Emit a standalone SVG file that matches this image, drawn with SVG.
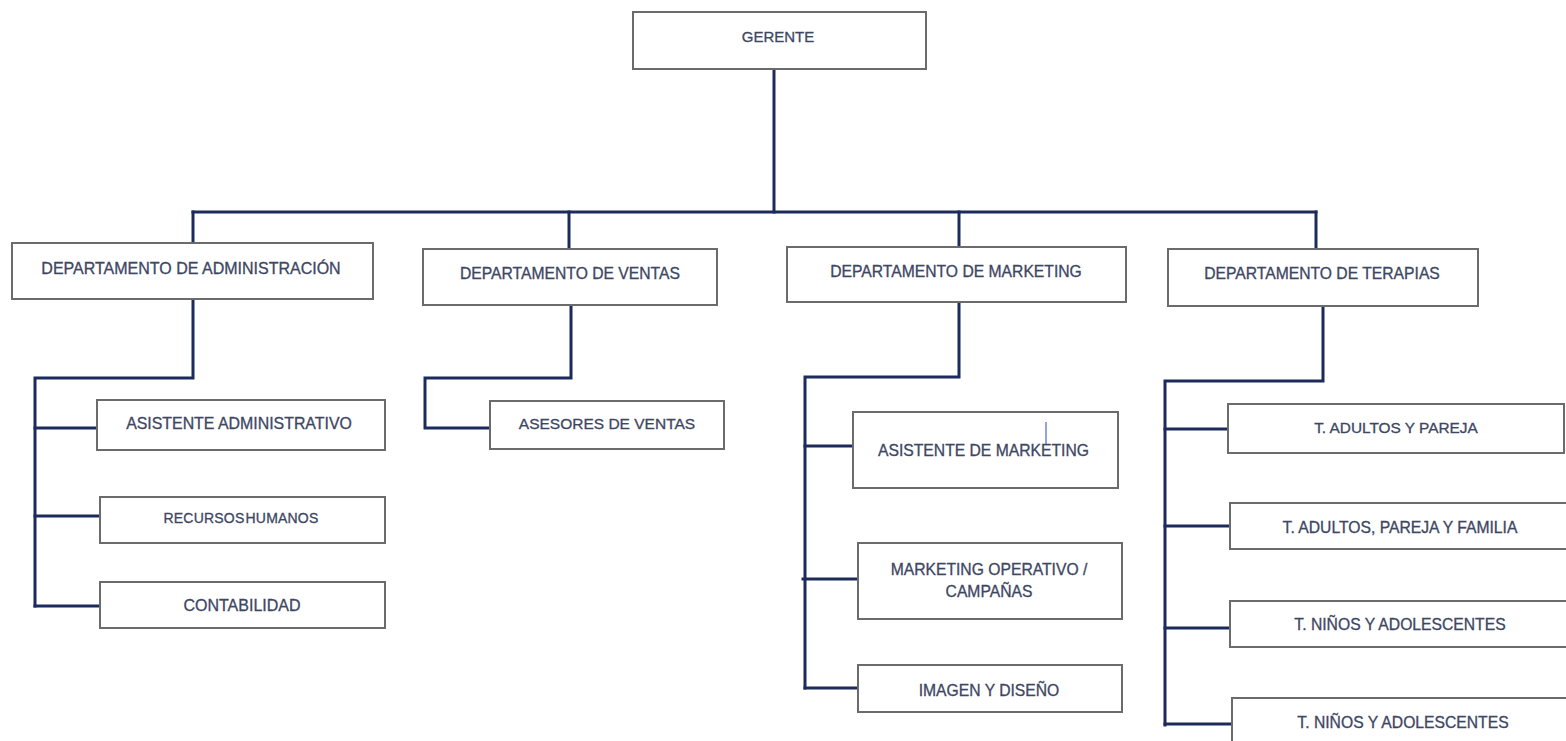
<svg xmlns="http://www.w3.org/2000/svg" width="1566" height="741" viewBox="0 0 1566 741">
<style>
.box{fill:#ffffff;stroke:#6b6b6b;stroke-width:2}
.lbl{font-family:"Liberation Sans",Arial,sans-serif;font-size:15.7px;fill:#3d4663;stroke:#3d4663;stroke-width:0.3px;text-anchor:middle}
.con{fill:none;stroke:#1d2b5c;stroke-width:3;stroke-linejoin:miter;stroke-linecap:square}
</style>
<rect width="1566" height="741" fill="#ffffff"/>
<g id="connectors">
<path class="con" d="M774 69 V212"/>
<path class="con" d="M193 212 H1316"/>
<path class="con" d="M193 212 V243"/>
<path class="con" d="M569 212 V249"/>
<path class="con" d="M959 212 V247"/>
<path class="con" d="M1316 212 V249"/>
<path class="con" d="M193 299 V378 H35 V606"/>
<path class="con" d="M35 428 H97"/>
<path class="con" d="M35 516 H100"/>
<path class="con" d="M35 606 H100"/>
<path class="con" d="M571 305 V378 H425 V428 H490"/>
<path class="con" d="M959 302 V377 H805 V688"/>
<path class="con" d="M805 446 H853"/>
<path class="con" d="M803 579 H858"/>
<path class="con" d="M805 688 H858"/>
<path class="con" d="M1323 306 V381 H1165 V725"/>
<path class="con" d="M1165 429 H1228"/>
<path class="con" d="M1165 526 H1230"/>
<path class="con" d="M1165 628 H1230"/>
<path class="con" d="M1165 724 H1232"/>
</g>
<g id="gerente"><rect class="box" x="633" y="12" width="293" height="57"/><text class="lbl" x="778" y="41.5" style="font-size:15px">GERENTE</text></g>
<g id="dep-admin"><rect class="box" x="12" y="243" width="361" height="56"/><text class="lbl" x="191" y="273.5" style="font-size:16px">DEPARTAMENTO DE ADMINISTRACIÓN</text></g>
<g id="dep-ventas"><rect class="box" x="423" y="249" width="294" height="56"/><text class="lbl" x="570" y="278.5">DEPARTAMENTO DE VENTAS</text></g>
<g id="dep-marketing"><rect class="box" x="787" y="247" width="339" height="55"/><text class="lbl" x="956" y="276.5">DEPARTAMENTO DE MARKETING</text></g>
<g id="dep-terapias"><rect class="box" x="1168" y="249" width="310" height="57"/><text class="lbl" x="1322" y="278.5">DEPARTAMENTO DE TERAPIAS</text></g>
<g id="asistente-admin"><rect class="box" x="97" y="400" width="288" height="50"/><text class="lbl" x="239" y="428.5" style="font-size:15.9px">ASISTENTE ADMINISTRATIVO</text></g>
<g id="recursos-humanos"><rect class="box" x="100" y="497" width="285" height="46"/><text class="lbl" x="241" y="523" style="font-size:14px;letter-spacing:0.2px;word-spacing:-3px">RECURSOS HUMANOS</text></g>
<g id="contabilidad"><rect class="box" x="100" y="582" width="285" height="46"/><text class="lbl" x="242" y="610.5" style="font-size:16px">CONTABILIDAD</text></g>
<g id="asesores-ventas"><rect class="box" x="490" y="401" width="234" height="48"/><text class="lbl" x="607" y="428.5" style="font-size:15.5px">ASESORES DE VENTAS</text></g>
<g id="asistente-marketing"><rect class="box" x="853" y="412" width="265" height="76"/><text class="lbl" x="983.5" y="455.5">ASISTENTE DE MARKETING</text><path d="M1046 422 V445" stroke="#2b45c8" stroke-width="1"/></g>
<g id="marketing-operativo"><rect class="box" x="858" y="543" width="264" height="76"/><text class="lbl" x="989" y="574.5">MARKETING OPERATIVO /</text><text class="lbl" x="989" y="596.5">CAMPAÑAS</text></g>
<g id="imagen-diseno"><rect class="box" x="858" y="665" width="264" height="47"/><text class="lbl" x="989" y="695.5">IMAGEN Y DISEÑO</text></g>
<g id="t-adultos-pareja"><rect class="box" x="1228" y="404" width="336" height="49"/><text class="lbl" x="1396" y="432.5" style="font-size:15.4px">T. ADULTOS Y PAREJA</text></g>
<g id="t-adultos-pareja-familia"><rect class="box" x="1230" y="503" width="350" height="46"/><text class="lbl" x="1400" y="532.5">T. ADULTOS, PAREJA Y FAMILIA</text></g>
<g id="t-ninos-1"><rect class="box" x="1230" y="601" width="350" height="46"/><text class="lbl" x="1400" y="629.5">T. NIÑOS Y ADOLESCENTES</text></g>
<g id="t-ninos-2"><rect class="box" x="1232" y="698" width="350" height="60"/><text class="lbl" x="1403" y="727.5">T. NIÑOS Y ADOLESCENTES</text></g>
</svg>
